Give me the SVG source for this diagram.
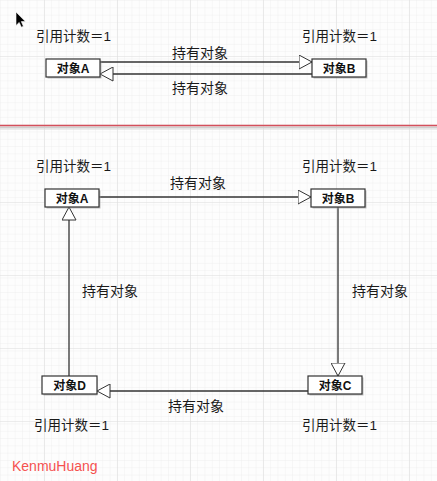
<svg xmlns="http://www.w3.org/2000/svg" width="437" height="481" viewBox="0 0 437 481">
<defs>
<pattern id="minor" width="7.3" height="7.3" patternUnits="userSpaceOnUse" x="1" y="1">
<path d="M7.3 0V7.3M0 7.3H7.3" fill="none" stroke="#ececec" stroke-width="0.8"/>
</pattern>
<pattern id="major" width="73" height="73" patternUnits="userSpaceOnUse" x="44" y="56">
<path d="M0 0V73M0 0H73" fill="none" stroke="#dcdcdc" stroke-width="1"/>
</pattern>
<marker id="tri" viewBox="0 0 14 15" refX="13.5" refY="7.5" markerWidth="14" markerHeight="15" markerUnits="userSpaceOnUse" orient="auto">
<path d="M0.5 0.5L13.5 7.5L0.5 14.5Z" fill="#fff" stroke="#333" stroke-width="1"/>
</marker>
<style>
.box rect.b{fill:#fff;stroke:#333;stroke-width:1.2}
.box rect.s{fill:#9a9a9a;opacity:0.6}
.box text{font-family:"Liberation Sans","Noto Sans CJK SC",sans-serif;font-size:12px;font-weight:bold;fill:#111;text-anchor:middle}
.lbl{font-family:"Liberation Sans","Noto Sans CJK SC",sans-serif;font-size:13.5px;fill:#1a1a1a}
.cn{font-family:"Liberation Sans","Noto Sans CJK SC",sans-serif;font-size:14px;fill:#1a1a1a;text-anchor:middle}
.conn line{stroke:#333;stroke-width:1.3;marker-end:url(#tri)}
</style>
</defs>
<rect width="437" height="481" fill="#fdfdfd"/>
<rect width="437" height="481" fill="url(#minor)"/>
<rect width="437" height="481" fill="url(#major)"/>
<path d="M16 12V25.5L19.2 22.4L21.4 27.2L23.4 26.3L21.3 21.6H25.4Z" fill="#000" stroke="#fff" stroke-width="0.6"/>
<rect x="0" y="126.5" width="437" height="2" fill="#cfcfcf"/>
<line x1="0" y1="125.5" x2="437" y2="125.5" stroke="#d4505c" stroke-width="1.6"/>

<g id="top-labels">
<text class="lbl" x="36" y="41">引用计数＝1</text>
<text class="lbl" x="302" y="41">引用计数＝1</text>
<text class="cn" x="200" y="58">持有对象</text>
<text class="cn" x="200" y="93">持有对象</text>
</g>

<g class="conn" id="connectors">
<line x1="100" y1="62" x2="312" y2="62"/>
<line x1="312" y1="74" x2="100" y2="74"/>
<line x1="99" y1="197" x2="311" y2="197"/>
<line x1="338" y1="207" x2="338" y2="376"/>
<line x1="308" y1="391" x2="97" y2="391"/>
<line x1="69" y1="377" x2="69" y2="207"/>
</g>

<g class="box" id="topA">
<rect class="s" x="47.5" y="60.5" width="54" height="18"/>
<rect class="b" x="46" y="59" width="54" height="18"/>
<text x="73" y="72.5">对象A</text>
</g>
<g class="box" id="topB">
<rect class="s" x="313.5" y="60.5" width="54" height="18"/>
<rect class="b" x="312" y="59" width="54" height="18"/>
<text x="339" y="72.5">对象B</text>
</g>

<g id="bottom-labels">
<text class="lbl" x="36" y="171">引用计数＝1</text>
<text class="lbl" x="302" y="171">引用计数＝1</text>
<text class="cn" x="198" y="188">持有对象</text>
<text class="cn" x="380" y="296">持有对象</text>
<text class="cn" x="110" y="296">持有对象</text>
<text class="cn" x="196" y="411">持有对象</text>
<text class="lbl" x="34" y="430">引用计数＝1</text>
<text class="lbl" x="302" y="430">引用计数＝1</text>
</g>

<g class="box" id="A">
<rect class="s" x="46.5" y="190.5" width="54" height="18"/>
<rect class="b" x="45" y="189" width="54" height="18"/>
<text x="72" y="202.5">对象A</text>
</g>
<g class="box" id="B">
<rect class="s" x="312.5" y="190.5" width="54" height="18"/>
<rect class="b" x="311" y="189" width="54" height="18"/>
<text x="338" y="202.5">对象B</text>
</g>
<g class="box" id="C">
<rect class="s" x="309.5" y="377.5" width="54" height="18"/>
<rect class="b" x="308" y="376" width="54" height="18"/>
<text x="335" y="389.5">对象C</text>
</g>
<g class="box" id="D">
<rect class="s" x="43.5" y="377.5" width="54" height="18"/>
<rect class="b" x="42" y="376" width="55" height="18"/>
<text x="69.5" y="389.5">对象D</text>
</g>

<text x="12" y="471" font-family="Liberation Sans, sans-serif" font-size="14" fill="#f5514f">KenmuHuang</text>
</svg>
